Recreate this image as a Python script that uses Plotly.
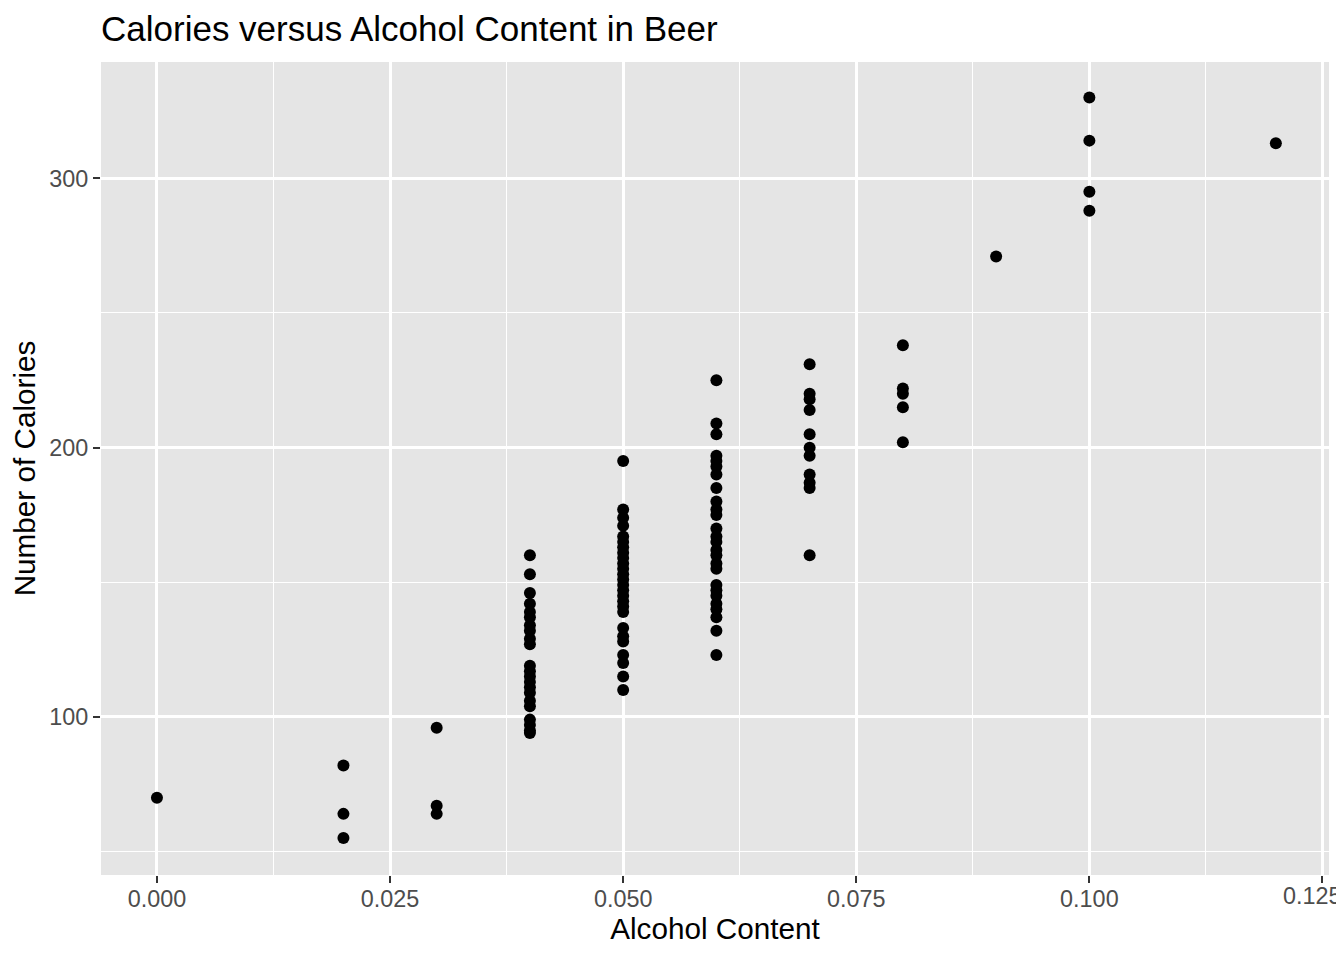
import plotly.graph_objects as go

# alcohol content levels and the calorie readings at each level
abv_levels = [0.00, 0.02, 0.03, 0.04, 0.05, 0.06, 0.07, 0.08, 0.09, 0.10, 0.12]

cal_000 = [70]
cal_002 = [82, 64, 55]
cal_003 = [96, 67, 64]
cal_004 = [160, 153, 146, 142, 139, 137, 134, 132, 129, 127, 119, 117, 115, 113,
           111, 109, 106, 104, 99, 97, 95, 94]
cal_005 = [195, 177, 174, 171, 167, 165, 163, 161, 159, 157, 155, 153, 151, 149,
           147, 145, 143, 141, 139, 133, 130, 128, 123, 120, 115, 110]
cal_006 = [225, 209, 205, 197, 195, 193, 190, 185, 180, 177, 175, 170, 167, 165,
           162, 160, 157, 155, 149, 147, 145, 142, 140, 137, 132, 123]
cal_007 = [231, 220, 218, 214, 205, 200, 197, 190, 187, 185, 160]
cal_008 = [238, 222, 220, 215, 202]
cal_009 = [271]
cal_010 = [330, 314, 295, 288]
cal_012 = [313]

groups = [cal_000, cal_002, cal_003, cal_004, cal_005, cal_006,
          cal_007, cal_008, cal_009, cal_010, cal_012]

alcohol = []
calories = []
for level, cals in zip(abv_levels, groups):
    alcohol += [level] * len(cals)
    calories += cals

fig = go.Figure()
fig.add_trace(go.Scatter(x=alcohol, y=calories, mode='markers',
                         marker=dict(color='black', size=12),
                         hoverinfo='x+y', showlegend=False))

font = 'Liberation Sans, Arial, Helvetica, sans-serif'
tick_font = dict(size=23.4, color='#4D4D4D')
W, H = 1336, 952   # page body has an 8px margin
fig.update_layout(
    width=W, height=H,
    margin=dict(l=93, r=15, t=54, b=85),
    paper_bgcolor='white',
    plot_bgcolor='#E5E5E5',
    font=dict(family=font, color='black'),
    title=dict(text='Calories versus Alcohol Content in Beer',
               font=dict(size=35, color='black'),
               x=93/W, xref='container', xanchor='left',
               y=1 - 21/H, yref='container', yanchor='middle'),
)
fig.update_xaxes(
    range=[-0.006, 0.1257], tick0=0, dtick=0.025, tickformat='.3f',
    showgrid=True, gridcolor='white', gridwidth=2.7,
    minor=dict(dtick=0.0125, showgrid=True, gridcolor='white', gridwidth=1.3),
    zeroline=False, showline=False,
    ticks='outside', ticklen=7, tickwidth=2, tickcolor='#333333',
    tickfont=tick_font, ticklabelstandoff=-4,
    title=dict(text='Alcohol Content', font=dict(size=29.7, color='black'), standoff=6),
)
fig.update_yaxes(
    range=[41.3, 343.2], tick0=0, dtick=100,
    showgrid=True, gridcolor='white', gridwidth=2.7,
    minor=dict(dtick=50, showgrid=True, gridcolor='white', gridwidth=1.3),
    zeroline=False, showline=False,
    ticks='outside', ticklen=7, tickwidth=2, tickcolor='#333333',
    tickfont=tick_font,
    title=dict(text='Number of Calories', font=dict(size=29.7, color='black'), standoff=6),
)

# plotly drops the last x tick label at the edge; keep it, pulled inside the page
fig.add_annotation(x=1, xref='paper', xanchor='right', xshift=15,
                   y=-0.0075, yref='paper', yanchor='top',
                   text='0.125', showarrow=False, font=tick_font)

fig.write_html("out.html")
